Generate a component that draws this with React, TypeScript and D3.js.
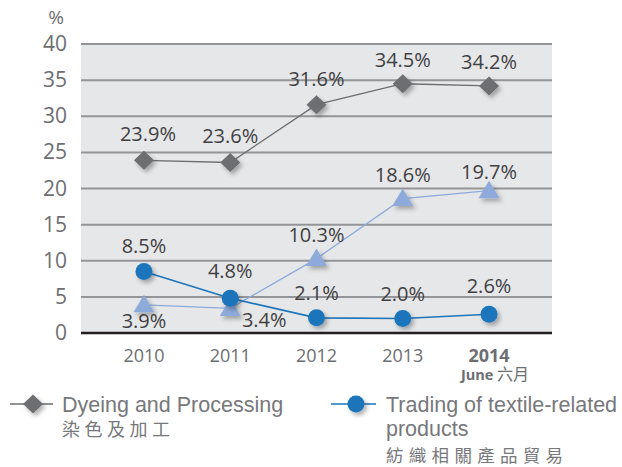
import * as React from 'react';
import { scaleLinear, scalePoint, line } from 'd3';

const years = ['2010', '2011', '2012', '2013', '2014'];
const yTicks = [0, 5, 10, 15, 20, 25, 30, 35, 40];
const dyeing = [23.9, 23.6, 31.6, 34.5, 34.2];
const trading = [8.5, 4.8, 2.1, 2.0, 2.6];
const other = [3.9, 3.4, 10.3, 18.6, 19.7];

// label offsets (dx, dy) relative to the marker
const dyeingOffsets = [[4, -19], [0, -19], [0, -19], [0, -17], [0, -17]];
const tradingOffsets = [[0, -19], [0, -20], [0, -18], [0, -18], [0, -21]];
const otherOffsets = [[0, 23], [34, 19], [0, -17], [0, -17], [0, -12]];

const W = 622;
const H = 467;
const left = 81;
const right = 552;
const top = 44;
const bottom = 333;

const x = scalePoint<string>().domain(years).range([left, right]).padding(0.73);
const y = scaleLinear().domain([0, 40]).range([bottom, top]);

const numFont = '"Open Sans", "Noto Sans", sans-serif';
const legendFont = '"Liberation Sans", Arial, sans-serif';
const cjkFont = '"Noto Sans CJK TC", sans-serif';

const diamond = 'M0,-9.5L10,0L0,9.5L-10,0Z';
const triangle = 'M0,-10L10.5,7.5L-10.5,7.5Z';

type Series = {
  values: number[];
  color: string;
  width: number;
  marker: 'diamond' | 'circle' | 'triangle';
  offsets: number[][];
};

const series: Series[] = [
  { values: dyeing, color: '#6d6e71', width: 1.3, marker: 'diamond', offsets: dyeingOffsets },
  { values: other, color: '#8eaadb', width: 1.3, marker: 'triangle', offsets: otherOffsets },
  { values: trading, color: '#1b75bb', width: 1.6, marker: 'circle', offsets: tradingOffsets },
];

function Marker({ kind, color, cx, cy }: { kind: string; color: string; cx: number; cy: number }) {
  if (kind === 'circle') return <circle cx={cx} cy={cy} r={8.5} fill={color} filter="url(#shadow)" />;
  return (
    <path
      d={kind === 'diamond' ? diamond : triangle}
      transform={`translate(${cx},${cy})`}
      fill={color}
      filter="url(#shadow)"
    />
  );
}

export default function App() {
  const gen = line<number>()
    .x((_, i) => x(years[i])!)
    .y(d => y(d));

  return (
    <svg width={W} height={H} style={{ position: 'absolute', left: 0, top: 0 }}>
      <defs>
        <filter id="shadow" x="-50%" y="-50%" width="200%" height="200%">
          <feDropShadow dx="2.5" dy="3" stdDeviation="2.2" floodColor="#000" floodOpacity="0.3" />
        </filter>
      </defs>
      <rect x={0} y={0} width={W} height={H} fill="#fff" />
      <rect x={left} y={top} width={right - left} height={bottom - top} fill="#e6e7e9" />
      {yTicks.filter(t => t > 0).map(t => (
        <line key={t} x1={left} x2={right} y1={y(t)} y2={y(t)} stroke="#939598" strokeWidth={2} />
      ))}
      <line x1={left} x2={right} y1={y(0)} y2={y(0)} stroke="#231f20" strokeWidth={2.5} />
      {yTicks.map(t => (
        <text key={t} x={67} y={y(t) + 7} textAnchor="end" fontFamily={numFont} fontSize={21} fill="#6d6e71">
          {t}
        </text>
      ))}
      <text x={56} y={24} textAnchor="middle" fontFamily={numFont} fontSize={19} fill="#6d6e71">%</text>

      {years.map((yr, i) =>
        i < years.length - 1 ? (
          <text key={yr} x={x(yr)} y={362} textAnchor="middle" fontFamily={numFont} fontSize={18} fill="#6d6e71">
            {yr}
          </text>
        ) : (
          <g key={yr}>
            <text x={x(yr)} y={362} textAnchor="middle" fontFamily={numFont} fontSize={18} fontWeight="bold" fill="#6d6e71">
              {yr}
            </text>
            <text x={x(yr)! + 6} y={380} textAnchor="middle" fontFamily={numFont} fontSize={14.5} fontWeight="bold" fill="#6d6e71">
              June <tspan fontFamily={cjkFont} fontWeight="normal" fontSize={16}>六月</tspan>
            </text>
          </g>
        )
      )}

      {series.map((s, si) => (
        <path key={si} d={gen(s.values)!} fill="none" stroke={s.color} strokeWidth={s.width} />
      ))}
      {series.map((s, si) =>
        s.values.map((v, i) => (
          <Marker key={`${si}-${i}`} kind={s.marker} color={s.color} cx={x(years[i])!} cy={y(v)} />
        ))
      )}
      {series.map((s, si) =>
        s.values.map((v, i) => (
          <text
            key={`l${si}-${i}`}
            x={x(years[i])! + s.offsets[i][0]}
            y={y(v) + s.offsets[i][1]}
            textAnchor="middle"
            fontFamily={numFont}
            fontSize={20}
            fill="#414042"
          >
            {v.toFixed(1)}%
          </text>
        ))
      )}

      {/* legend */}
      <g>
        <line x1={10} x2={53} y1={404} y2={404} stroke="#6d6e71" strokeWidth={1.3} />
        <Marker kind="diamond" color="#6d6e71" cx={33} cy={404} />
        <text x={62} y={412} fontFamily={legendFont} fontSize={21.5} fill="#77787b">Dyeing and Processing</text>
        <text x={62} y={436} fontFamily={cjkFont} fontSize={18} letterSpacing={4.5} fill="#77787b">染色及加工</text>

        <line x1={331} x2={376} y1={404} y2={404} stroke="#1b75bb" strokeWidth={1.6} />
        <Marker kind="circle" color="#1b75bb" cx={356} cy={404} />
        <text x={386} y={412} fontFamily={legendFont} fontSize={21.5} fill="#77787b">Trading of textile-related</text>
        <text x={386} y={436} fontFamily={legendFont} fontSize={21.5} fill="#77787b">products</text>
        <text x={386} y={462} fontFamily={cjkFont} fontSize={17.5} letterSpacing={5.3} fill="#77787b">紡織相關產品貿易</text>
      </g>
    </svg>
  );
}
